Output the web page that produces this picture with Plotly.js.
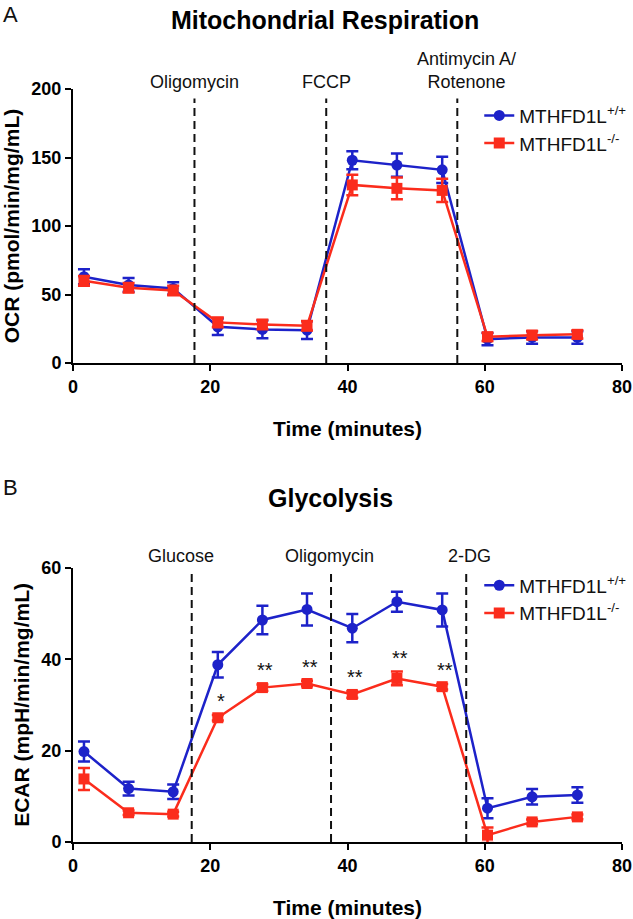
<!DOCTYPE html>
<html>
<head>
<meta charset="utf-8">
<script src="https://cdn.plot.ly/plotly-3.0.1.min.js"></script>
<style>
  html, body { margin: 0; padding: 0; background: #fff; }
  #chart { width: 633px; height: 919px; }
</style>
</head>
<body>
<div id="chart"></div>
<script>
// ------------------------------------------------------------
// Seahorse traces — OCR (panel A) and ECAR (panel B)
// ------------------------------------------------------------

const time = [1.6, 8.1, 14.6, 21.1, 27.6, 34.1, 40.7, 47.2, 53.8, 60.4, 66.9, 73.5];

// panel A — OCR (pmol/min/mg/mL)
const ocrWT = [63, 57, 54.5, 26.5, 24.6, 24, 148, 144.5, 141, 17.5, 18.7, 18.7];
const ocrWTerr = [5.5, 5, 4.5, 6, 6.5, 6.5, 6.5, 8.5, 9.5, 4.5, 4.5, 4.5];
const ocrKO = [60, 55, 53, 29.7, 28.2, 27.2, 130, 127.5, 126, 19.2, 20.4, 21];
const ocrKOerr = [3.5, 3.5, 3.5, 3.5, 3.5, 3.5, 7.5, 8, 8.5, 3, 3, 3];

// panel B — ECAR (mpH/min/mg/mL)
const ecarWT = [19.8, 11.7, 11, 38.8, 48.6, 50.9, 46.8, 52.6, 50.8, 7.4, 9.9, 10.3];
const ecarWTerr = [2.2, 1.5, 1.6, 2.8, 3.1, 3.5, 3.1, 2.2, 3.6, 2.2, 1.7, 1.7];
const ecarKO = [13.8, 6.4, 6.1, 27.2, 33.8, 34.7, 32.3, 35.8, 34, 1.5, 4.4, 5.5];
const ecarKOerr = [2.4, 0.5, 0.5, 0.6, 0.7, 0.6, 0.7, 1.5, 0.6, 1.7, 0.5, 0.5];

// significance marks over the knockout trace (index into time)
const sigIndex = [3, 4, 5, 6, 7, 8];
const sigText = ["*", "**", "**", "**", "**", "**"];

// injections
const injA = [17.7, 36.9, 56.0];
const injALabel = ["Oligomycin", "FCCP", "Antimycin A/<br>Rotenone"];
const injALabelX = [17.7, 36.9, 57.3];
const injB = [17.3, 37.6, 57.3];
const injBLabel = ["Glucose", "Oligomycin", "2-DG"];
const injBLabelX = [15.8, 37.4, 57.8];

const seriesNames = ["MTHFD1L<sup>+/+</sup>", "MTHFD1L<sup>-/-</sup>"];

const BLUE = "#1d22c9";
const RED = "#fb2c1c";
const FONT = "Liberation Sans, Arial, sans-serif";

function trace(y, err, name, color, symbol, xa, ya, legend) {
  return {
    x: time, y: y, name: name, type: "scatter", mode: "lines+markers",
    xaxis: xa, yaxis: ya, legend: legend,
    line: { color: color, width: 2.5 },
    marker: { color: color, symbol: symbol, size: 11 },
    error_y: { type: "data", array: err, visible: true, color: color, thickness: 2.5, width: 6 },
    cliponaxis: false,
  };
}

function axisStyle(extra) {
  return Object.assign({
    showgrid: false, zeroline: false,
    showline: true, linecolor: "#000", linewidth: 2,
    ticks: "outside", ticklen: 6, tickwidth: 2, tickcolor: "#000",
    tickfont: { family: FONT, size: 18, color: "#000", weight: "bold" },
    fixedrange: true,
  }, extra);
}

function dashLines(xs, top, xref, yref) {
  return xs.map((x) => ({
    type: "line", xref: xref, yref: yref, x0: x, x1: x, y0: 0, y1: top,
    line: { color: "#111", width: 2, dash: "8px,5px" },
  }));
}

function drugLabels(xs, labels, y, xref, yref) {
  return xs.map((x, i) => ({
    x: x, y: y, xref: xref, yref: yref, text: labels[i], showarrow: false,
    xanchor: "center", yanchor: "bottom",
    font: { family: FONT, size: 18, color: "#111" },
  }));
}

const traces = [
  trace(ocrWT, ocrWTerr, seriesNames[0], BLUE, "circle", "x", "y", "legend"),
  trace(ocrKO, ocrKOerr, seriesNames[1], RED, "square", "x", "y", "legend"),
  trace(ecarWT, ecarWTerr, seriesNames[0], BLUE, "circle", "x2", "y2", "legend2"),
  trace(ecarKO, ecarKOerr, seriesNames[1], RED, "square", "x2", "y2", "legend2"),
];

const stars = sigIndex.map((k, i) => ({
  x: time[k] + 0.4, y: ecarKO[k] + ecarKOerr[k], xref: "x2", yref: "y2",
  text: sigText[i], showarrow: false, xanchor: "center", yanchor: "middle", yshift: 14,
  font: { family: FONT, size: 20, color: "#111" },
}));

const titleFont = { family: FONT, size: 25, color: "#000", weight: "bold" };
const axisTitleFont = { family: FONT, size: 21, color: "#000", weight: "bold" };
const legendFont = { family: FONT, size: 19, color: "#111" };

const layout = {
  width: 633, height: 919,
  margin: { l: 73, r: 11, t: 89, b: 77, autoexpand: false },
  paper_bgcolor: "#fff", plot_bgcolor: "#fff",
  font: { family: FONT },
  xaxis: axisStyle({ domain: [0, 1], range: [0, 80], tickvals: [0, 20, 40, 60, 80], anchor: "y",
    title: { text: "Time (minutes)", font: axisTitleFont, standoff: 26 } }),
  yaxis: axisStyle({ domain: [0.636, 1], range: [0, 200], tickvals: [0, 50, 100, 150, 200], anchor: "x",
    title: { text: "OCR (pmol/min/mg/mL)", font: axisTitleFont, standoff: 6 } }),
  xaxis2: axisStyle({ domain: [0, 1], range: [0, 80], tickvals: [0, 20, 40, 60, 80], anchor: "y2",
    title: { text: "Time (minutes)", font: axisTitleFont, standoff: 26 } }),
  yaxis2: axisStyle({ domain: [0, 0.364], range: [0, 60], tickvals: [0, 20, 40, 60], anchor: "x2",
    title: { text: "ECAR (mpH/min/mg/mL)", font: axisTitleFont, standoff: 6 } }),
  legend: { x: 0.74, y: 0.99, xanchor: "left", yanchor: "top", font: legendFont,
    bgcolor: "rgba(0,0,0,0)", tracegroupgap: 0 },
  legend2: { x: 0.74, y: 0.366, xanchor: "left", yanchor: "top", font: legendFont,
    bgcolor: "rgba(0,0,0,0)", tracegroupgap: 0 },
  shapes: dashLines(injA, 193, "x", "y").concat(dashLines(injB, 59, "x2", "y2")),
};

// figure-level labels placed in pixel terms relative to the page
function pageNote(text, px, py, font, anchor) {
  const plotW = 633 - 73 - 11, plotH = 919 - 89 - 77;
  return {
    x: (px - 73) / plotW, y: (919 - 77 - py) / plotH, xref: "paper", yref: "paper",
    text: text, showarrow: false, xanchor: anchor || "center", yanchor: "middle", font: font,
  };
}

layout.annotations = [
  pageNote("A", 1, 14, { family: FONT, size: 22, color: "#111" }, "left"),
  pageNote("B", 1, 487, { family: FONT, size: 22, color: "#111" }, "left"),
  pageNote("Mitochondrial Respiration", 325, 20, titleFont),
  pageNote("Glycolysis", 330, 498, titleFont),
].concat(drugLabels(injALabelX, injALabel, 196, "x", "y"))
 .concat(drugLabels(injBLabelX, injBLabel, 60, "x2", "y2"))
 .concat(stars);

Plotly.newPlot("chart", traces, layout, { staticPlot: true, displayModeBar: false });
</script>
</body>
</html>
